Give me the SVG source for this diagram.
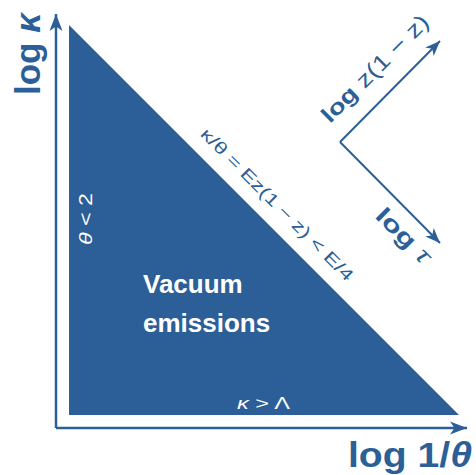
<svg xmlns="http://www.w3.org/2000/svg" width="476" height="475" viewBox="0 0 476 475">
<style>
.ax{fill:none;stroke:#2c5f97;stroke-width:2.5}
.ar{fill:none;stroke:#2c5f97;stroke-width:2}
.t{font-family:"Liberation Sans",Arial,sans-serif;fill:#2c5f97}
.w{font-family:"Liberation Sans",Arial,sans-serif;fill:#ffffff}
.b{font-weight:bold}
.i{font-style:italic}
</style>
<defs>
<marker id="big" markerUnits="userSpaceOnUse" markerWidth="20" markerHeight="16" viewBox="-18 -8 20 16" refX="0" refY="0" orient="auto">
<path d="M0,0 L-17,-6.5 L-12.5,0 L-17,6.5 Z" fill="#2c5f97"/>
</marker>
<marker id="sm" markerUnits="userSpaceOnUse" markerWidth="18" markerHeight="14" viewBox="-16 -7 18 14" refX="0" refY="0" orient="auto">
<path d="M0,0 L-15,-6 L-11,0 L-15,6 Z" fill="#2c5f97"/>
</marker>
</defs>
<g id="region">
<polygon points="69,25 69,415 459,415" fill="#2c5f97"/>
<text class="w b" x="143" y="293" font-size="26">Vacuum</text>
<text class="w b" x="143" y="332" font-size="26">emissions</text>
<text class="w" x="263.5" y="409" font-size="16" text-anchor="middle" textLength="53" lengthAdjust="spacingAndGlyphs"><tspan class="i">κ</tspan> &gt; Λ</text>
<text class="w" transform="translate(92,219) rotate(-90)" font-size="19" text-anchor="middle" textLength="52" lengthAdjust="spacingAndGlyphs"><tspan class="i">θ</tspan> &lt; 2</text>
</g>
<g id="boundary-label">
<text class="t" transform="translate(199.5,135) rotate(45)" font-size="17" textLength="208" lengthAdjust="spacingAndGlyphs">κ/θ = Ez(1 − z) &lt; E/4</text>
</g>
<g id="connectors">
<path class="ax" d="M56,428 L56,14" marker-end="url(#big)"/>
<path class="ax" d="M56,428 L467,428" marker-end="url(#big)"/>
<path class="ar" d="M340,142 L440,41" marker-end="url(#sm)"/>
<path class="ar" d="M340,142 L440,243" marker-end="url(#sm)"/>
</g>
<g id="axis-y">
<text class="t b" transform="translate(40,54) rotate(-90)" font-size="35" text-anchor="middle">log <tspan class="i">κ</tspan></text>
</g>
<g id="axis-x">
<text class="t b" x="348" y="467" font-size="35" textLength="124" lengthAdjust="spacingAndGlyphs">log 1/<tspan class="i">θ</tspan></text>
</g>
<g id="axis-z">
<text class="t" transform="translate(330,124) rotate(-45)" font-size="22" textLength="142" lengthAdjust="spacingAndGlyphs"><tspan class="b">log</tspan> z(1 − z)</text>
</g>
<g id="axis-tau">
<text class="t" transform="translate(374,217) rotate(45)" font-size="23" textLength="68" lengthAdjust="spacingAndGlyphs"><tspan class="b">log</tspan> <tspan class="i">τ</tspan></text>
</g>
</svg>
